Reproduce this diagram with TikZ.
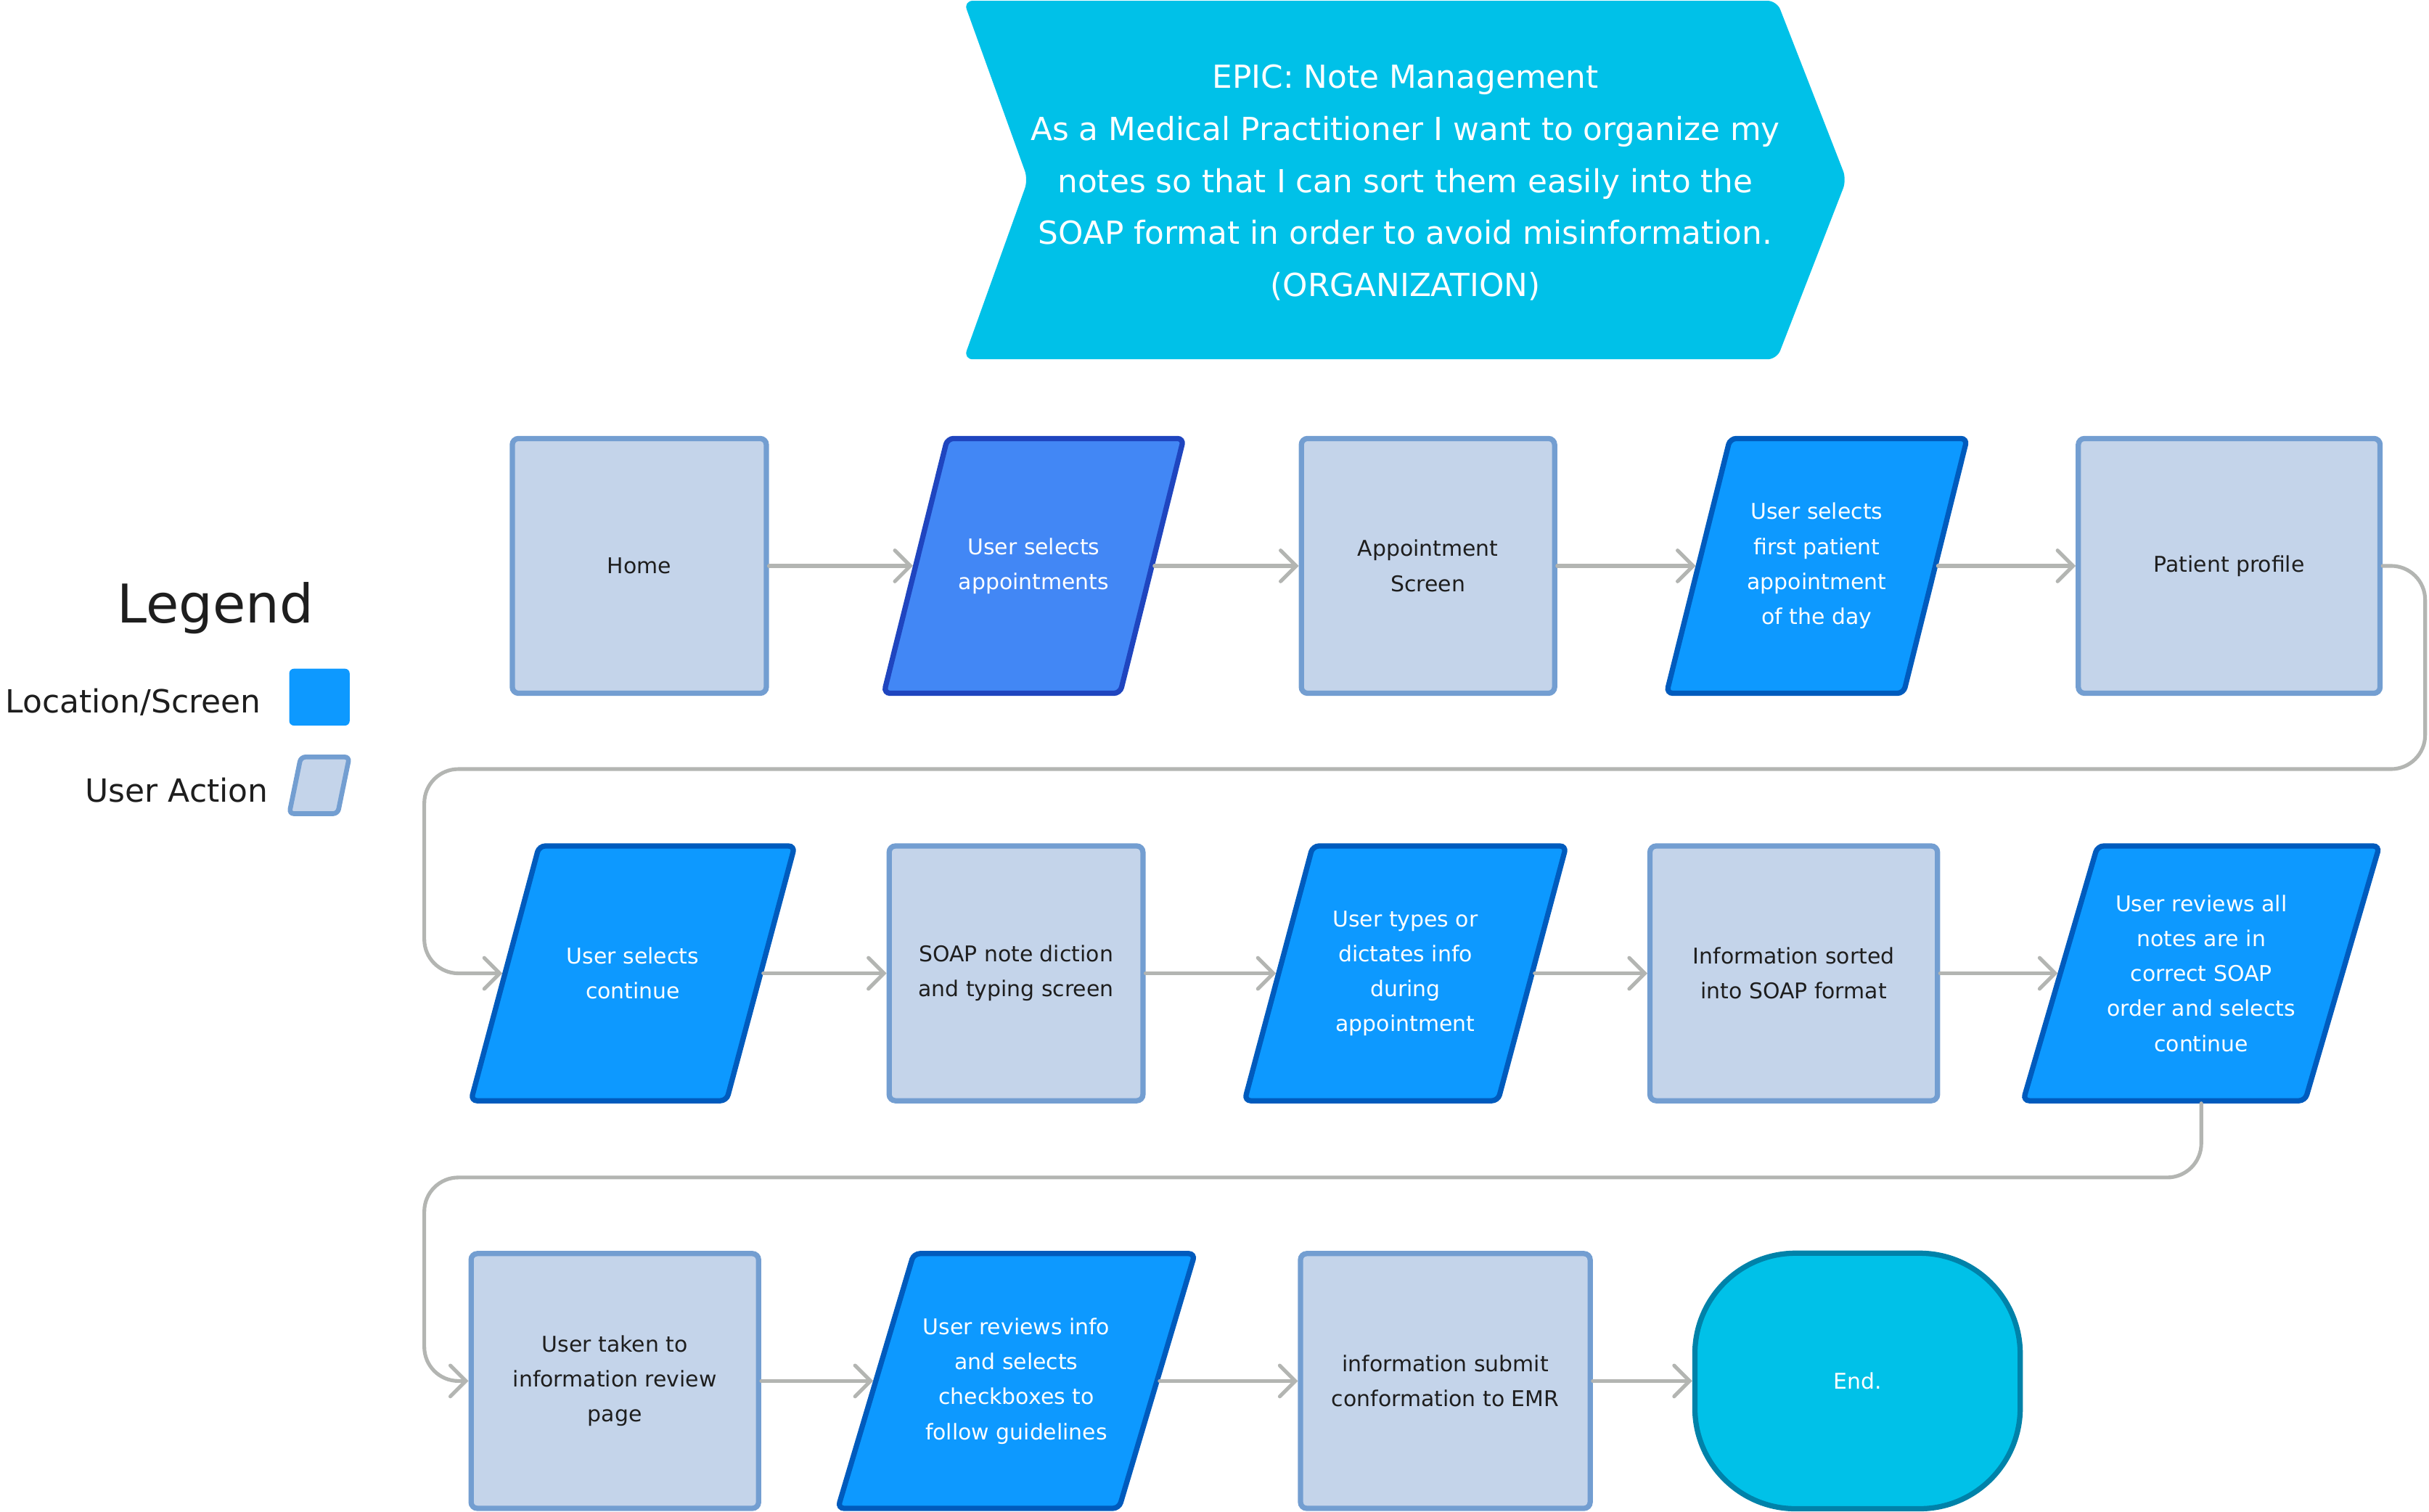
\documentclass[tikz,border=0pt]{standalone}
\usepackage{fontspec}
\setmainfont{DejaVu Sans}
\usetikzlibrary{arrows.meta,backgrounds}
\definecolor{lightfill}{HTML}{C4D4EA}
\definecolor{lightborder}{HTML}{739ED1}
\definecolor{bluefill}{HTML}{0D99FF}
\definecolor{blueborder}{HTML}{005BBD}
\definecolor{pfill}{HTML}{4287F5}
\definecolor{pborder}{HTML}{1F45BF}
\definecolor{cyanfill}{HTML}{00C1E8}
\definecolor{endborder}{HTML}{0082A9}
\definecolor{connc}{HTML}{B3B5B2}
\definecolor{darktext}{HTML}{1E1E1E}
\newcommand\nodefont{\fontsize{14}{22.6}\selectfont}
\newcommand\paradraw[4]{%
  \draw[line width=3.4pt, fill=#3, draw=#4, rounded corners=4pt]
    ([xshift=#2/2]#1.north west) -- ([xshift=#2/2]#1.north east) --
    ([xshift=-#2/2]#1.south east) -- ([xshift=-#2/2]#1.south west) -- cycle;}
\tikzset{
  screen/.style={draw=lightborder, fill=lightfill, line width=3.4pt, rounded corners=4pt,
    minimum height=164.5pt, minimum width=#1, text=darktext, font=\nodefont,
    align=center, inner sep=0pt, outer sep=0pt},
  act/.style={draw=none, minimum height=164.5pt, minimum width=#1, text=white,
    font=\nodefont, align=center, inner sep=0pt, outer sep=0pt},
  conn/.style={draw=connc, line width=2.4pt, line cap=round, line join=round,
    -{Straight Barb[length=10pt,width=20pt,line cap=round]},
    shorten <=1.7pt, shorten >=1.7pt, rounded corners=22pt},
}
\begin{document}
\begin{tikzpicture}[x=1pt,y=-1pt]
\useasboundingbox (0,0) rectangle (1568,976);

% epic banner
\fill[cyanfill, rounded corners=6pt] (622,0.5) -- (1147,0.5) -- (1192,116) -- (1147,232) -- (622,232) -- (663.6,116) -- cycle;
\node[text=white, align=center, font=\fontsize{20.5}{33.6}\selectfont] (epic) at (907.2,118)
 {EPIC: Note Management\\As a Medical Practitioner I want to organize my\\notes so that I can sort them easily into the\\SOAP format in order to avoid misinformation.\\(ORGANIZATION)};

% legend
\node[anchor=base, text=darktext, font=\fontsize{34.5}{40}\selectfont, inner sep=0pt] (legend) at (139,402) {Legend};
\node[anchor=base east, text=darktext, font=\fontsize{20.6}{24}\selectfont, inner sep=0pt] (loc) at (168.7,460.5) {Location/Screen};
\node[anchor=base east, text=darktext, font=\fontsize{20.6}{24}\selectfont, inner sep=0pt] (ua) at (173.3,517.7) {User Action};
\fill[bluefill, rounded corners=3pt] (186.7,431.8) rectangle (225.7,468.5);
\draw[fill=lightfill, draw=lightborder, line width=3.1pt, rounded corners=3pt]
  (194.2,488.8) -- (225.5,488.8) -- (218,525.4) -- (186.7,525.4) -- cycle;

% row 1
\node[screen=164pt] (home) at (412.7,365.4) {Home};
\node[act=152.5pt] (p2) at (667.3,365.4) {User selects\\appointments};
\node[screen=163.5pt] (appt) at (921.8,365.4) {Appointment\\Screen};
\node[act=153pt] (p4) at (1172.8,365.4) {User selects\\first patient\\appointment\\of the day};
\node[screen=194.8pt] (patient) at (1439,365.4) {Patient profile};

% row 2
\node[act=165pt] (p6) at (408.5,628.5) {User selects\\continue};
\node[screen=163.8pt] (soap) at (655.9,628.5) {SOAP note diction\\and typing screen};
\node[act=163.6pt] (p8) at (907.2,628.5) {User types or\\dictates info\\during\\appointment};
\node[screen=185.6pt] (sorted) at (1157.9,628.5) {Information sorted\\into SOAP format};
\node[act=182pt] (p10) at (1421,628.5) {User reviews all\\notes are in\\correct SOAP\\order and selects\\continue};

% row 3
\node[screen=185.6pt] (taken) at (396.9,891.7) {User taken to\\information review\\page};
\node[act=181.5pt] (p12) at (656.1,891.7) {User reviews info\\and selects\\checkboxes to\\follow guidelines};
\node[screen=187pt] (submit) at (933,891.7) {information submit\\conformation to EMR};
\node[screen=210pt, draw=endborder, fill=cyanfill, text=white, rounded corners=65pt, minimum height=165pt] (end) at (1199.1,891.7) {End.};

\begin{scope}[on background layer]
\paradraw{p2}{41}{pfill}{pborder}
\paradraw{p4}{41}{bluefill}{blueborder}
\paradraw{p6}{44}{bluefill}{blueborder}
\paradraw{p8}{44}{bluefill}{blueborder}
\paradraw{p10}{48}{bluefill}{blueborder}
\paradraw{p12}{49}{bluefill}{blueborder}
\end{scope}

% waypoints
\coordinate (r1) at (1565.5,496.6);
\coordinate (l1) at (273.9,628.5);
\coordinate (r2) at (273.9,760.3);
\coordinate (l2) at (273.9,891.7);

% connectors
\draw[conn] (home.east) -- (p2.west);
\draw[conn] (p2.east) -- (appt.west);
\draw[conn] (appt.east) -- (p4.west);
\draw[conn] (p4.east) -- (patient.east -| patient.west);
\draw[conn] (patient.east) -| (r1) -| (l1) -- (p6.west);
\draw[conn] (p6.east) -- (soap.west);
\draw[conn] (soap.east) -- (p8.west);
\draw[conn] (p8.east) -- (sorted.west);
\draw[conn] (sorted.east) -- (p10.west);
\draw[conn] (p10.south) |- (r2) -- (l2) -- (taken.west);
\draw[conn] (taken.east) -- (p12.west);
\draw[conn] (p12.east) -- (submit.west);
\draw[conn] (submit.east) -- (end.west);
\end{tikzpicture}
\end{document}
